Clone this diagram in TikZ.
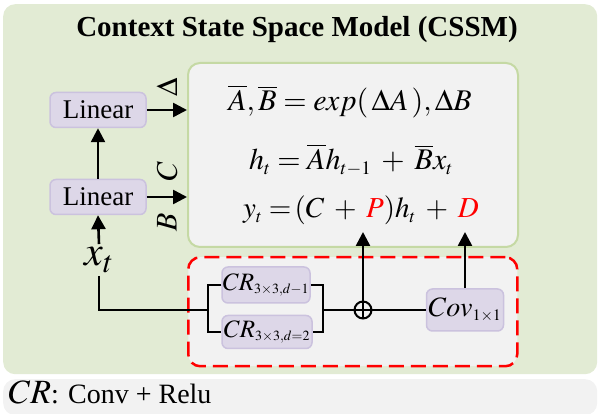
\documentclass[tikz,border=0pt]{standalone}
\usepackage{mathptmx}
\usepackage[no-math]{fontspec}
\setmainfont{Liberation Serif}
\usetikzlibrary{arrows.meta}

\DeclareMathSizes{25}{25}{14}{10}
\DeclareMathSizes{28}{28}{16}{12}
\DeclareMathSizes{29}{29}{18}{13}
\DeclareMathSizes{30}{30}{19}{14}

\newcommand{\eqspace}{\medmuskip=6mu\relax}

\definecolor{cssmgreen}{RGB}{226,235,212}
\definecolor{eqborder}{RGB}{197,217,164}
\definecolor{panelgray}{RGB}{242,242,242}
\definecolor{lavfill}{RGB}{221,215,232}
\definecolor{lavborder}{RGB}{203,194,222}

\begin{document}
\begin{tikzpicture}[
    x=1pt, y=-1pt,
    >={Triangle[length=14pt,width=14pt]},
    conn/.style={line width=2.6pt},
    lavbox/.style={draw=lavborder, line width=1.5pt, fill=lavfill, rounded corners=6pt, inner sep=0pt},
    bigfont/.style={font=\fontsize{27}{30}\selectfont},
    eqfont/.style={font=\fontsize{30}{32}\selectfont},
]
\useasboundingbox (0,0) rectangle (598,414);

% ---- Panels ----
\node[fill=cssmgreen, rounded corners=12pt, minimum width=594pt, minimum height=370pt,
      anchor=north west] (panel) at (3,4) {};
\node[fill=panelgray, rounded corners=12pt, minimum width=594pt, minimum height=36pt,
      anchor=north west] (legendbar) at (3,379) {};

\node[font=\fontsize{29}{32}\selectfont\bfseries] (title) at (297,30)
    {Context State Space Model (CSSM)};

% ---- Equation box ----
\node[draw=eqborder, line width=2pt, fill=panelgray, rounded corners=12pt,
      minimum width=330pt, minimum height=184pt, anchor=north west] (eqbox) at (187,62) {};

\node[eqfont, anchor=base] (eqA) at (350,111)
    {$\overline{A},\overline{B} = exp(\,\Delta A\,),\Delta B$};
\node[eqfont, anchor=base] (eqH) at (351,170)
    {\eqspace$h_t = \overline{A}h_{t-1} + \overline{B}x_t$};
\node[font=\fontsize{29}{32}\selectfont, anchor=base] (eqY) at (361,218)
    {\eqspace$y_t =\!(C + {\color{red}P})h_t + {\color{red}D}$};

% ---- Linear branch ----
\node[lavbox, bigfont, minimum width=96pt, minimum height=35pt] (lin1) at (98,110) {Linear};
\node[lavbox, bigfont, minimum width=96pt, minimum height=35pt] (lin2) at (98,197) {Linear};

\draw[conn, ->] (lin2.north) -- (lin1.south);
\draw[conn, ->] (lin1.east) -- (lin1.east -| eqbox.west);
\draw[conn, ->] (lin2.east) -- (lin2.east -| eqbox.west);

\node[font=\fontsize{30}{32}\selectfont, rotate=90] (lblD) at (167,87)  {$\Delta$};
\node[font=\fontsize{30}{32}\selectfont, rotate=90] (lblC) at (167,171) {$C$};
\node[font=\fontsize{30}{32}\selectfont, rotate=90] (lblB) at (167,222) {$B$};

\node[font=\fontsize{42}{44}\selectfont] (xt) at (99,260) {$x_t$};
\draw[conn, ->] (xt.north) -- (lin2.south);

% ---- Conv block ----
\node[draw=red, line width=2.5pt, dash pattern=on 15pt off 7pt, fill=panelgray,
      rounded corners=12pt, minimum width=329pt, minimum height=109pt,
      anchor=north west] (convblock) at (187,256) {};

\node[lavbox, minimum width=88pt, minimum height=36pt, font=\fontsize{25}{28}\selectfont]
    (crA) at (266,285) {$CR_{3\times3,d-1}$};
\node[lavbox, minimum width=90pt, minimum height=33pt, font=\fontsize{25}{28}\selectfont]
    (crB) at (267,332) {$CR_{3\times3,d=2}$};

\node[draw, circle, line width=2pt, minimum size=17pt, inner sep=0pt] (plus) at (363,310) {};
\draw[line width=2pt] (plus.north) -- (plus.south) (plus.west) -- (plus.east);

\node[lavbox, minimum width=77pt, minimum height=42pt, font=\fontsize{28}{30}\selectfont]
    (cov) at (465,310) {$Cov_{1\times1}$};

\coordinate (split) at (208,310);
\coordinate (join) at (323,310);
\coordinate (pTip) at (363,232);
\coordinate (dTip) at (465,232);

\draw[conn] (xt.south) |- (split);
\draw[conn] (crA.west) -| (split) |- (crB.west);
\draw[conn] (crA.east) -| (join) |- (crB.east);
\draw[conn] (join) -- (plus.west);
\draw[conn] (plus.east) -- (cov.west);
\draw[conn, ->] (plus.north) -- (pTip);
\draw[conn, ->] (cov.north) -- (dTip);

% ---- Legend ----
\node[anchor=base west, font=\fontsize{28}{30}\selectfont] (legend) at (5,404)
    {{\fontsize{34}{36}\selectfont$CR$}: Conv + Relu};

\end{tikzpicture}
\end{document}
